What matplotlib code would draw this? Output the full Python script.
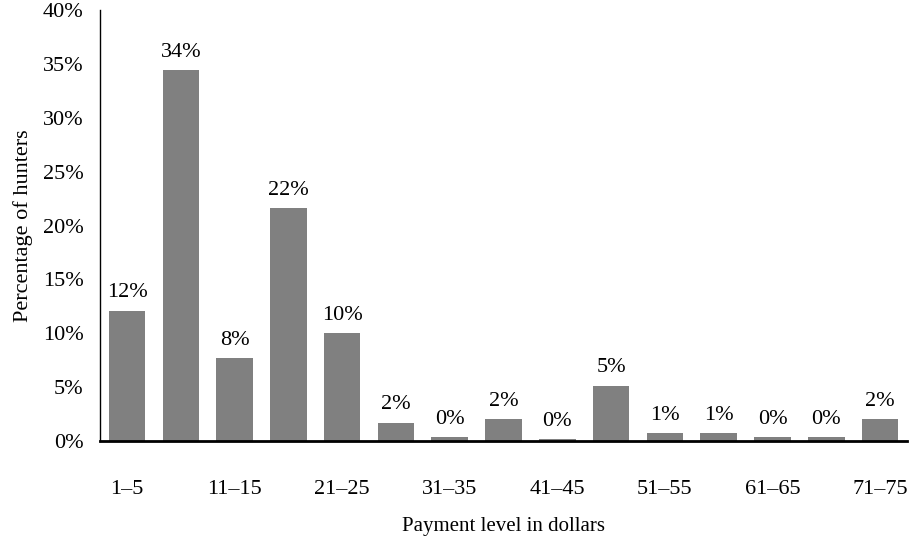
import matplotlib
matplotlib.use("Agg")
import matplotlib.pyplot as plt
from matplotlib.ticker import FuncFormatter

categories = ["1–5", "6–10", "11–15", "16–20", "21–25", "26–30", "31–35", "36–40",
              "41–45", "46–50", "51–55", "56–60", "61–65", "66–70", "71–75"]
values = [12.1, 34.4, 7.7, 21.6, 10.0, 1.7, 0.35, 2.05, 0.15, 5.15, 0.72, 0.72, 0.35, 0.35, 2.05]

plt.rcParams['font.family'] = ['Liberation Serif', 'DejaVu Serif']

fig = plt.figure(figsize=(9.1, 5.36), dpi=100)
ax = fig.add_axes([0.11, 0.1772, 0.8867, 0.8041])

x = list(range(len(categories)))
bars = ax.bar(x, values, width=0.68, color='#808080')
for xi, v in zip(x, values):
    ax.annotate(f"{round(v):d}%", (xi, v), xytext=(0, 6), textcoords='offset points',
                ha='center', va='bottom', fontsize=16)

ax.set_xlim(-0.5, len(categories) - 0.5)
ax.set_ylim(0, 40)
ax.set_yticks(range(0, 41, 5))
ax.yaxis.set_major_formatter(FuncFormatter(lambda v, p: f"{int(v)}%"))
ax.set_xticks(x[::2])
ax.set_xticklabels(categories[::2])
ax.tick_params(axis='y', length=0, pad=12, labelsize=16)
ax.tick_params(axis='x', length=0, pad=28, labelsize=16)

for s in ['top', 'right']:
    ax.spines[s].set_visible(False)
ax.spines['left'].set_linewidth(1.0)
ax.spines['bottom'].set_linewidth(2.0)

ax.set_ylabel("Percentage of hunters", fontsize=16, labelpad=7)
ax.set_xlabel("Payment level in dollars", fontsize=15, labelpad=13)

fig.savefig("out.png", dpi=100)
